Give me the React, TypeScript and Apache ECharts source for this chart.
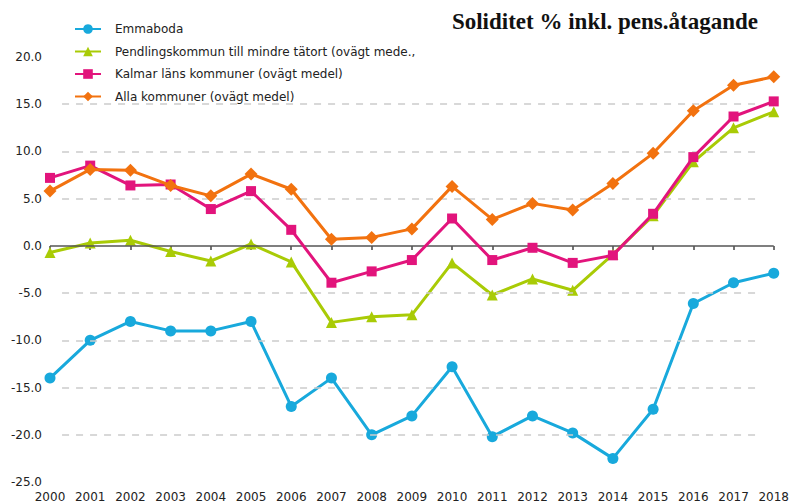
import React, { useEffect, useRef } from "react";
import * as echarts from "echarts";

const years = ["2000","2001","2002","2003","2004","2005","2006","2007","2008","2009","2010","2011","2012","2013","2014","2015","2016","2017","2018"];
const emmaboda = [-14.0, -10.0, -8.0, -9.0, -9.0, -8.0, -17.0, -14.0, -20.0, -18.0, -12.8, -20.2, -18.0, -19.8, -22.5, -17.3, -6.1, -3.9, -2.9];
const pendling = [-0.7, 0.3, 0.6, -0.6, -1.6, 0.2, -1.7, -8.1, -7.5, -7.3, -1.8, -5.2, -3.5, -4.7, -0.9, 3.2, 8.9, 12.5, 14.2];
const kalmar = [7.2, 8.5, 6.4, 6.5, 3.9, 5.8, 1.7, -3.9, -2.7, -1.5, 2.9, -1.5, -0.2, -1.8, -1.0, 3.4, 9.4, 13.7, 15.3];
const alla = [5.8, 8.1, 8.0, 6.4, 5.3, 7.6, 6.0, 0.7, 0.9, 1.8, 6.3, 2.8, 4.5, 3.8, 6.6, 9.8, 14.3, 17.0, 17.9];
const seriesNames = [
  "Emmaboda",
  "Pendlingskommun till mindre tätort (ovägt mede.,",
  "Kalmar läns kommuner (ovägt medel)",
  "Alla kommuner (ovägt medel)",
];
const gridValues = [15, 10, 5, -5, -10, -15, -20];
const titleText = "Soliditet % inkl. pens.åtagande";

export default function App() {
  const ref = useRef<HTMLDivElement>(null);
  useEffect(() => {
    if (!ref.current) return;
    const chart = echarts.init(ref.current, undefined, { renderer: "svg" });
    const font = "'DejaVu Sans', Verdana, sans-serif";
    const colors = ["#18A9DC", "#A9CB06", "#E2147C", "#F2720F"];
    const symbols = ["circle", "triangle", "rect", "diamond"];
    const symbolSizes = [11, 11, 10, 13];
    const datasets = [emmaboda, pendling, kalmar, alla];
    const lineSeries = datasets.map((d, i) => ({
      name: seriesNames[i],
      type: "line",
      data: d,
      symbol: symbols[i],
      symbolSize: symbolSizes[i],
      z: 3 + i,
      itemStyle: { color: colors[i] },
      lineStyle: { color: colors[i], width: 3 },
    }));
    const markData: any[] = gridValues.map((v) => [
      { coord: [0.3, v], lineStyle: { type: [7, 7], color: "#cbcbcb", width: 1.5 } },
      { coord: [17.7, v] },
    ]);
    markData.push({ yAxis: 0, lineStyle: { type: "solid", color: "#555", width: 1.5 } });
    chart.setOption({
      animation: false,
      backgroundColor: "#fff",
      title: {
        text: titleText,
        right: 29,
        top: 5,
        textStyle: { fontFamily: "'Liberation Serif', serif", fontWeight: "bold", fontSize: 23, color: "#111" },
      },
      legend: {
        data: seriesNames,
        orient: "vertical",
        left: 66,
        top: 17,
        padding: [6, 24, 6, 8],
        backgroundColor: "#fff",
        itemWidth: 26,
        itemHeight: 12,
        itemGap: 10.5,
        textStyle: { fontFamily: font, fontSize: 12, color: "#222", padding: [0, 0, 0, 9] },
      },
      grid: { left: 50, right: 14, top: 57, bottom: 22, containLabel: false },
      xAxis: [
        {
          type: "category",
          data: years,
          boundaryGap: false,
          axisLine: { show: false },
          axisTick: { show: true, alignWithLabel: true, length: 4, lineStyle: { color: "#444", width: 1.5 } },
          axisLabel: { fontFamily: font, fontSize: 12, color: "#222", margin: 9 },
          splitLine: { show: false },
        },
        { type: "value", min: 0, max: 18, show: false },
      ],
      yAxis: {
        type: "value",
        min: -25,
        max: 20,
        interval: 5,
        axisLine: { show: false },
        axisTick: { show: false },
        splitLine: { show: false },
        axisLabel: {
          fontFamily: font,
          fontSize: 12,
          color: "#222",
          margin: 8,
          formatter: (v: number) => v.toFixed(1),
        },
      },
      series: [
        {
          type: "line",
          name: "",
          xAxisIndex: 1,
          data: [],
          silent: true,
          z: 1,
          markLine: { silent: true, symbol: "none", label: { show: false }, data: markData },
        },
        ...lineSeries,
      ],
    });
    return () => chart.dispose();
  }, []);
  return <div ref={ref} style={{ width: 792, height: 504, position: "absolute", left: 0, top: 0 }} />;
}
